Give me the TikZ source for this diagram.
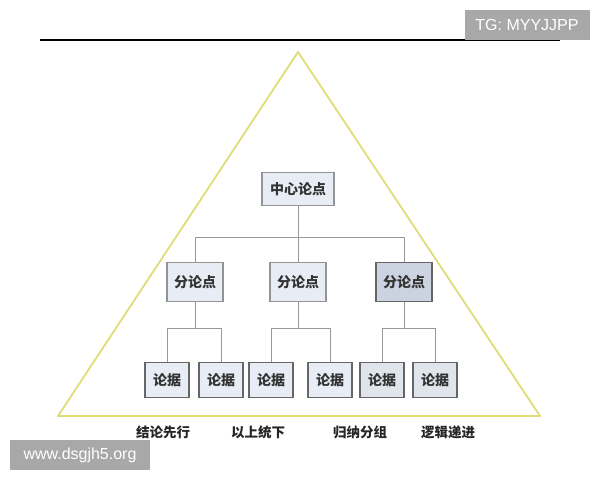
\documentclass[tikz,border=0pt]{standalone}
\usepackage{fontspec}
\newfontfamily\cjk{Noto Sans CJK SC}
\newfontfamily\wmfont{Liberation Sans}
\usetikzlibrary{positioning}
\definecolor{boxfill}{RGB}{232,236,244}
\definecolor{boxdark}{RGB}{204,211,224}
\definecolor{pyramid}{RGB}{224,220,120}
\definecolor{wmgray}{RGB}{168,168,168}

\begin{document}
\begin{tikzpicture}[x=1pt, y=-1pt,
    box/.style={draw=gray!85, fill=boxfill, line width=1.1pt, inner sep=0pt, font=\cjk\fontsize{14}{14}\selectfont\bfseries, text=black!80},
    topbox/.style={box, minimum width=72pt, minimum height=33pt},
    midbox/.style={box, minimum width=56pt, minimum height=39pt},
    leafbox/.style={box, draw=black!60, line width=1.4pt, minimum width=44pt, minimum height=35pt},
    link/.style={draw=gray!80, line width=0.8pt},
    caption/.style={font=\cjk\fontsize{13.5}{13.5}\selectfont\bfseries, text=black!85},
    watermark/.style={fill=wmgray, text=white, font=\wmfont\fontsize{16}{16}\selectfont, inner sep=0pt},]
    \useasboundingbox (0,0) rectangle (600,480);
    % top rule and pyramid
    \draw[line width=1.8pt] (40,40) -- (560,40);
    \draw[pyramid, line width=1.8pt, line join=round] (298,52) -- (540,416) -- (58,416) -- cycle;
    % nodes
    \node[topbox]                (main) at (298,189)  {中心论点};
    \node[midbox]                (sub1) at (195,282)  {分论点};
    \node[midbox]                (sub2) at (298,282)  {分论点};
    \node[midbox, fill=boxdark, draw=black!60]  (sub3) at (404,282)  {分论点};
    \node[leafbox]               (ev1)  at (167,380)  {论据};
    \node[leafbox]               (ev2)  at (221,380)  {论据};
    \node[leafbox]               (ev3)  at (271,380)  {论据};
    \node[leafbox]               (ev4)  at (330,380)  {论据};
    \node[leafbox, fill=boxdark!60] (ev5)  at (382,380)  {论据};
    \node[leafbox, fill=boxdark!60] (ev6)  at (435,380)  {论据};
    % lines
    \draw[link] (main.south) -- (sub2.north);
    \draw[link] (main.south) -- ++(0,31) -| (sub1.north);
    \draw[link] (main.south) -- ++(0,31) -| (sub3.north);
    \draw[link] (sub1.south) -- ++(0,26) -| (ev1.north);
    \draw[link] (sub1.south) -- ++(0,26) -| (ev2.north);
    \draw[link] (sub2.south) -- ++(0,26) -| (ev3.north);
    \draw[link] (sub2.south) -- ++(0,26) -| (ev4.north);
    \draw[link] (sub3.south) -- ++(0,26) -| (ev5.north);
    \draw[link] (sub3.south) -- ++(0,26) -| (ev6.north);
    % captions
    \node[caption] (cap1) at (163,432) {结论先行};
    \node[caption] (cap2) at (258,432) {以上统下};
    \node[caption] (cap3) at (360,432) {归纳分组};
    \node[caption] (cap4) at (448,432) {逻辑递进};
    % watermarks
    \node[watermark, minimum width=125pt, minimum height=30pt] (tg)  at (527,25)  {TG: MYYJJPP};
    \node[watermark, minimum width=140pt, minimum height=30pt] (web) at (80,455)  {www.dsgjh5.org};
\end{tikzpicture}
\end{document}
